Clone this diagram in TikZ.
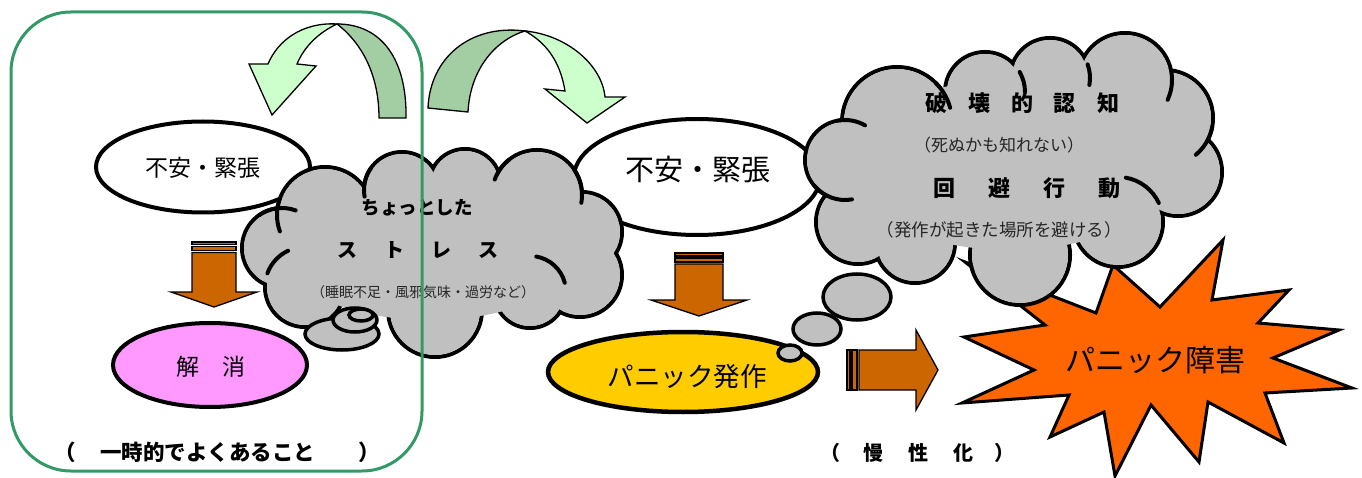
\documentclass[tikz,border=0pt]{standalone}
\usepackage{fontspec}
\newfontfamily\jp{Noto Sans CJK JP}
\usetikzlibrary{shapes.geometric}
\definecolor{cgray}{HTML}{C0C0C0}
\definecolor{gframe}{HTML}{339966}
\definecolor{adark}{HTML}{A3CDA3}
\definecolor{alight}{HTML}{CCFFCC}
\definecolor{abrown}{HTML}{CC6600}
\definecolor{pinkf}{HTML}{FF99FF}
\definecolor{yellowf}{HTML}{FFCC00}
\definecolor{staro}{HTML}{FF6600}
\newcommand{\fs}[1]{\fontsize{#1pt}{#1pt}\selectfont}
\begin{document}
\begin{tikzpicture}[x=1pt,y=-1pt,
  ov/.style={ellipse, draw=black, line width=4pt, inner sep=0pt},
  cl/.style={line width=4pt, line cap=round},
  bub/.style={fill=cgray, draw=black, line width=3.5pt},
  blk/.style={draw=black, line width=1.3pt, line join=miter},
  txt/.style={inner sep=0pt},
]
\useasboundingbox (0,0) rectangle (1362,478);
\fill[white] (0,0) rectangle (1362,478);

% curved arrows
\filldraw[blk, fill=adark] (406,118) .. controls (407,60) and (382,24) .. (337,24) .. controls (358,40) and (379,70) .. (379,118) -- cycle;
\filldraw[blk, fill=alight] (337,24) .. controls (303,22) and (278,40) .. (268,64) -- (249,64) -- (272,115) -- (316,66) -- (297,64) .. controls (305,45) and (320,32) .. (337,24) -- cycle;
\filldraw[blk, fill=adark] (428,108) .. controls (430,58) and (470,24) .. (525,31) .. controls (495,40) and (470,70) .. (468,112) -- cycle;
\filldraw[blk, fill=alight] (525,31) .. controls (567,35) and (602,65) .. (605,97) -- (625,97) -- (587,123) -- (545,89) -- (565,91) .. controls (560,60) and (545,42) .. (525,31) -- cycle;

% ellipses
\node[ov, fill=white, minimum width=214pt, minimum height=91pt] (fa1) at (203,167) {};
\node[txt, font=\jp\fs{23}] (fa1t) at (203,168) {不安・緊張};
\node[ov, fill=white, minimum width=246pt, minimum height=116pt] (fa2) at (697,177) {};
\node[txt, font=\jp\fs{29}] (fa2t) at (698,169) {不安・緊張};
\node[ov, fill=pinkf, minimum width=194pt, minimum height=84pt] (ks) at (210,365) {};
\node[txt, font=\jp\fs{23}] (kst) at (211,367) {解　消};
\node[ov, line width=4.5pt, fill=yellowf, minimum width=270pt, minimum height=80pt] (pa) at (683,372) {};
\node[txt, font=\jp\fs{26.5}] (pat) at (687,377) {パニック発作};

% down arrows
\filldraw[blk, fill=abrown] (192,242) rectangle (236,244.5);
\filldraw[blk, fill=abrown] (192,246.5) rectangle (236,250.5);
\filldraw[blk, fill=abrown] (192,252.5) -- (236,252.5) -- (236,292) -- (257,292) -- (214,307) -- (171,292) -- (192,292) -- cycle;
\filldraw[blk, fill=abrown] (675,253) rectangle (723,256);
\filldraw[blk, fill=abrown] (675,258) rectangle (723,262);
\filldraw[blk, fill=abrown] (675,264) -- (723,264) -- (723,300) -- (747,300) -- (699,316) -- (651,300) -- (675,300) -- cycle;

% star
\filldraw[draw=black, line width=3pt, fill=staro, line join=miter]
 (965,262) -- (1045,325) -- (964,337) -- (1034,370) -- (962,403) -- (1069,395) -- (1050,437) -- (1104,412) -- (1115,476) -- (1151,405) -- (1199,462) -- (1208,402) -- (1284,443) -- (1265,393) -- (1352,388) -- (1273,358) -- (1339,330) -- (1258,323) -- (1289,290) -- (1212,300) -- (1223,240) -- (1160,307) -- (1113,265) -- (1096,313) -- cycle;
\node[txt, font=\jp\fs{30}] (pd) at (1155,360) {パニック障害};

% cloud 1
\foreach \x/\y/\r in {325/215/48, 402/190/38, 465/185/36, 537/195/45, 582/232/40, 580/275/42, 530/292/36, 435/310/47, 305/287/40, 282/248/40}
  \draw[line width=4pt] (\x,\y) circle[radius=\r];
\foreach \x/\y/\r in {325/215/48, 402/190/38, 465/185/36, 537/195/45, 582/232/40, 580/275/42, 530/292/36, 435/310/47, 305/287/40, 282/248/40}
  \fill[cgray] (\x,\y) circle[radius={\r-2}];
\fill[cgray] (430,250) ellipse[x radius=150, y radius=70];
\draw[cl] (325,215) ++(160:48) arc[start angle=160, end angle=200, radius=48];
\draw[cl] (282,248) ++(235:40) arc[start angle=235, end angle=290, radius=40];
\draw[cl] (305,287) ++(200:40) arc[start angle=200, end angle=245, radius=40];
\draw[cl] (402,190) ++(170:38) arc[start angle=170, end angle=215, radius=38];
\draw[cl] (537,195) ++(-35:45) arc[start angle=-35, end angle=10, radius=45];
\draw[cl] (537,195) ++(200:45) arc[start angle=200, end angle=232, radius=45];
\draw[cl] (530,292) ++(-80:36) arc[start angle=-80, end angle=-15, radius=36];
\draw[bub] (342,334) ellipse[x radius=37, y radius=16];
\draw[bub] (355,320) ellipse[x radius=22, y radius=12];
\draw[bub] (361,315) ellipse[x radius=12, y radius=6];
\node[txt, font=\jp\bfseries\fs{18.5}] (c1a) at (417,208) {ちょっとした};
\node[txt, font=\jp\bfseries\fs{20}] (c1b) at (418,250) {ス\hspace{27pt}ト\hspace{27pt}レ\hspace{27pt}ス};
\node[txt, font=\jp\fs{14}, text=black!85] (c1c) at (423,292) {（睡眠不足・風邪気味・過労など）};

% cloud 2
\foreach \x/\y/\r in {897/122/55, 985/92/40, 1050/78/40, 1125/80/47, 1165/118/48, 1178/172/44, 1118/222/45, 1020/255/50, 915/243/40, 858/222/42, 845/160/40}
  \draw[line width=4pt] (\x,\y) circle[radius=\r];
\foreach \x/\y/\r in {897/122/55, 985/92/40, 1050/78/40, 1125/80/47, 1165/118/48, 1178/172/44, 1118/222/45, 1020/255/50, 915/243/40, 858/222/42, 845/160/40}
  \fill[cgray] (\x,\y) circle[radius={\r-2}];
\fill[cgray] (1010,165) ellipse[x radius=165, y radius=85];
\draw[cl] (845,160) ++(80:40) arc[start angle=80, end angle=140, radius=40];
\draw[cl] (1118,222) ++(-80:45) arc[start angle=-80, end angle=-25, radius=45];
\draw[cl] (1165,118) ++(10:48) arc[start angle=10, end angle=50, radius=48];
\draw[cl] (897,122) ++(-45:55) arc[start angle=-45, end angle=-15, radius=55];
\draw[cl] (985,92) ++(-30:40) arc[start angle=-30, end angle=0, radius=40];
\draw[cl] (1050,78) ++(-20:40) arc[start angle=-20, end angle=10, radius=40];
\draw[cl] (1125,80) ++(-10:47) arc[start angle=-10, end angle=25, radius=47];
\draw[cl] (845,160) ++(-100:40) arc[start angle=-100, end angle=-60, radius=40];
\draw[bub] (857,297) ellipse[x radius=34, y radius=23];
\draw[bub] (817,329) ellipse[x radius=24, y radius=16];
\draw[bub] (790,353) ellipse[x radius=12, y radius=8];
\node[txt, font=\jp\bfseries\fs{22}] (c2a) at (1022,103) {破\hspace{21pt}壊\hspace{21pt}的\hspace{21pt}認\hspace{21pt}知};
\node[txt, font=\jp\fs{17}, text=black!85] (c2b) at (999,145) {（死ぬかも知れない）};
\node[txt, font=\jp\bfseries\fs{22}] (c2c) at (1027,188) {回\hspace{33pt}避\hspace{33pt}行\hspace{33pt}動};
\node[txt, font=\jp\fs{17.5}, text=black!85] (c2d) at (999,230) {（発作が起きた場所を避ける）};

% right arrow
\filldraw[blk, fill=abrown] (847,350) rectangle (850,390);
\filldraw[blk, fill=abrown] (852,350) rectangle (857,390);
\filldraw[blk, fill=abrown] (859,350) -- (916,350) -- (916,330) -- (938,370) -- (916,410) -- (916,390) -- (859,390) -- cycle;

% bottom labels
\node[txt, anchor=west, font=\jp\bfseries\fs{21.5}] (lb1) at (54,452) {（\hspace{24.5pt}一時的でよくあること\hspace{43pt}）};
\node[txt, anchor=west, font=\jp\bfseries\fs{20}] (lb2) at (820,453) {（\hspace{23pt}慢\hspace{25pt}性\hspace{25pt}化\hspace{21pt}）};

% green frame
\draw[gframe, line width=3pt, rounded corners=60pt] (11,12) rectangle (422,471);
\end{tikzpicture}
\end{document}
